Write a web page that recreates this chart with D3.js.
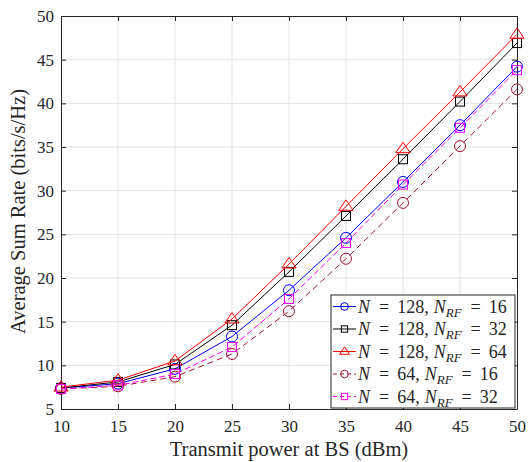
<!DOCTYPE html>
<html>
<head>
<meta charset="utf-8">
<script src="https://cdn.jsdelivr.net/npm/d3@7"></script>
<style>
  body { margin: 0; background: #fff; }
  text { font-family: "Liberation Serif", "DejaVu Serif", serif; fill: #262626; }
</style>
</head>
<body>
<div id="chart"></div>
<script>
const power = [10, 15, 20, 25, 30, 35, 40, 45, 50]
const rate_128_16 = [7.4, 7.9, 9.6, 13.3, 18.6, 24.6, 31.0, 37.5, 44.2]
const rate_128_32 = [7.4, 8.1, 10.1, 14.6, 20.7, 27.1, 33.6, 40.2, 46.9]
const rate_128_64 = [7.5, 8.3, 10.5, 15.3, 21.6, 28.2, 34.8, 41.3, 47.9]
const rate_64_16 = [7.3, 7.6, 8.7, 11.3, 16.2, 22.2, 28.6, 35.1, 41.6]
const rate_64_32 = [7.3, 7.7, 9.0, 12.1, 17.6, 24.0, 30.7, 37.2, 43.8]
const xTicks = [10, 15, 20, 25, 30, 35, 40, 45, 50]
const yTicks = [5, 10, 15, 20, 25, 30, 35, 40, 45, 50]

const series = [
  { n: '128', rf: '16', values: rate_128_16, color: '#0000ff', marker: 'circle', dash: null },
  { n: '128', rf: '32', values: rate_128_32, color: '#000000', marker: 'square', dash: null },
  { n: '128', rf: '64', values: rate_128_64, color: '#ff0000', marker: 'triangle', dash: null },
  { n: '64', rf: '16', values: rate_64_16, color: '#a2142f', marker: 'circle', dash: '6,4' },
  { n: '64', rf: '32', values: rate_64_32, color: '#ff00ff', marker: 'square', dash: '6,3' }
]

const width = 532
const height = 462
const margin = { top: 16, right: 15, bottom: 53, left: 61 }
const axisColor = '#262626'
const gridColor = '#e3e3e3'

const svg = d3.select('#chart').append('svg')
  .attr('width', width)
  .attr('height', height)

const x = d3.scaleLinear().domain([10, 50]).range([margin.left, width - margin.right])
const y = d3.scaleLinear().domain([5, 50]).range([height - margin.bottom, margin.top])

// 网格
const grid = svg.append('g').attr('stroke', gridColor).attr('stroke-width', 1)
grid.selectAll('line.gx').data(xTicks.slice(1, -1)).join('line')
  .attr('x1', d => x(d)).attr('x2', d => x(d))
  .attr('y1', y(5)).attr('y2', y(50))
grid.selectAll('line.gy').data(yTicks.slice(1, -1)).join('line')
  .attr('x1', x(10)).attr('x2', x(50))
  .attr('y1', d => y(d)).attr('y2', d => y(d))

// 坐标轴
const tickLen = 5
const xAxis = svg.append('g')
  .attr('transform', `translate(0,${y(5)})`)
  .call(d3.axisBottom(x).tickValues(xTicks).tickSizeInner(-tickLen).tickSizeOuter(0).tickPadding(11))
const xAxisTop = svg.append('g')
  .attr('transform', `translate(0,${y(50)})`)
  .call(d3.axisTop(x).tickValues(xTicks).tickSizeInner(-tickLen).tickSizeOuter(0).tickFormat(''))
const yAxis = svg.append('g')
  .attr('transform', `translate(${x(10)},0)`)
  .call(d3.axisLeft(y).tickValues(yTicks).tickSizeInner(-tickLen).tickSizeOuter(0).tickPadding(7))
const yAxisRight = svg.append('g')
  .attr('transform', `translate(${x(50)},0)`)
  .call(d3.axisRight(y).tickValues(yTicks).tickSizeInner(-tickLen).tickSizeOuter(0).tickFormat(''))

;[xAxis, xAxisTop, yAxis, yAxisRight].forEach(a => {
  a.select('.domain').attr('stroke', axisColor).attr('stroke-width', 1)
  a.selectAll('.tick line').attr('stroke', axisColor)
  a.selectAll('text')
    .style('font-family', '"Liberation Serif", serif')
    .style('font-size', '17px')
    .attr('fill', axisColor)
})

// 轴标题
svg.append('text')
  .attr('x', (x(10) + x(50)) / 2)
  .attr('y', 456)
  .attr('text-anchor', 'middle')
  .style('font-size', '20.5px')
  .text('Transmit power at BS (dBm)')

svg.append('text')
  .attr('transform', `translate(25,${(y(5) + y(50)) / 2 - 1}) rotate(-90)`)
  .attr('text-anchor', 'middle')
  .style('font-size', '20.5px')
  .text('Average Sum Rate (bits/s/Hz)')

// 标记
const drawMarker = (g, type, color, cx, cy, k = 1) => {
  if (type === 'circle') {
    g.append('circle').attr('cx', cx).attr('cy', cy).attr('r', 5.5 * k)
      .attr('fill', 'none').attr('stroke', color).attr('stroke-width', 1)
  } else if (type === 'square') {
    const h = 4.5 * k
    g.append('rect').attr('x', cx - h).attr('y', cy - h).attr('width', 2 * h).attr('height', 2 * h)
      .attr('fill', 'none').attr('stroke', color).attr('stroke-width', 1)
  } else {
    const s = 6.5 * k
    g.append('path')
      .attr('d', `M${cx},${cy - s}L${cx + s * 1.1},${cy + s * 0.6}L${cx - s * 1.1},${cy + s * 0.6}Z`)
      .attr('fill', 'none').attr('stroke', color).attr('stroke-width', 1)
  }
}

const line = d3.line().x(d => x(d[0])).y(d => y(d[1]))

const plot = svg.append('g')
series.forEach(s => {
  const pts = power.map((p, i) => [p, s.values[i]])
  const g = plot.append('g')
  g.append('path')
    .attr('d', line(pts))
    .attr('fill', 'none')
    .attr('stroke', s.color)
    .attr('stroke-width', 1)
    .attr('stroke-dasharray', s.dash)
  pts.forEach(p => drawMarker(g, s.marker, s.color, x(p[0]), y(p[1])))
})

// 图例
const lg = svg.append('g')
const lx = 331, ly = 295, lw = 184, lh = 113
lg.append('rect')
  .attr('x', lx).attr('y', ly).attr('width', lw).attr('height', lh)
  .attr('fill', '#fff').attr('stroke', axisColor).attr('stroke-width', 1)

series.forEach((s, i) => {
  const cy = ly + 11.5 + i * 22.5
  const row = lg.append('g')
  row.append('line')
    .attr('x1', lx + 2).attr('x2', lx + 25)
    .attr('y1', cy).attr('y2', cy)
    .attr('stroke', s.color).attr('stroke-width', 1)
    .attr('stroke-dasharray', s.dash ? '4,3' : null)
  drawMarker(row, s.marker, s.color, lx + 13.5, cy, 0.7)
  const t = row.append('text')
    .attr('x', lx + 27)
    .attr('y', cy + 6)
    .style('font-size', '18px')
  t.append('tspan').style('font-style', 'italic').text('N')
  t.append('tspan').attr('dx', 9).text('=')
  t.append('tspan').attr('dx', 8).text(`${s.n},`)
  t.append('tspan').attr('dx', 5).style('font-style', 'italic').text('N')
  t.append('tspan').style('font-style', 'italic').style('font-size', '13px').attr('dy', 4).text('RF')
  t.append('tspan').attr('dy', -4).attr('dx', 9).text('=')
  t.append('tspan').attr('dx', 8).text(s.rf)
})
</script>
</body>
</html>
